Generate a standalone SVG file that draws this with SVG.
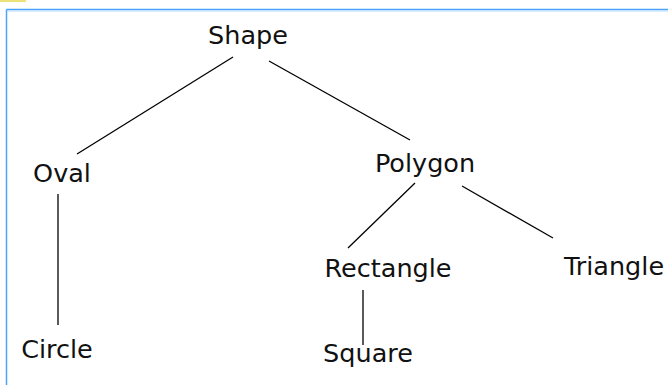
<svg xmlns="http://www.w3.org/2000/svg" width="668" height="385" viewBox="0 0 668 385">
  <style>
    .lbl { font-family: "DejaVu Sans", sans-serif; font-size: 25.5px; fill: #111; text-anchor: middle; }
    .edge { stroke: #000; stroke-width: 1.3; fill: none; }
  </style>
  <rect width="668" height="385" fill="#fff"/>
  <!-- frame -->
  <rect x="0" y="0" width="26" height="2" fill="#f0e27a"/>
  <line x1="6.5" y1="9.5" x2="668" y2="9.5" stroke="#4aa3ff" stroke-width="1.5"/>
  <line x1="7.5" y1="11" x2="668" y2="11" stroke="#b5dcff" stroke-width="1"/>
  <line x1="6.5" y1="9.5" x2="6.5" y2="385" stroke="#4aa3ff" stroke-width="1.5"/>

  <g id="connectors">
    <line class="edge" x1="233" y1="57" x2="77" y2="154"/>
    <line class="edge" x1="269" y1="61" x2="410" y2="140"/>
    <line class="edge" x1="58" y1="194" x2="58" y2="325"/>
    <line class="edge" x1="415" y1="183" x2="348" y2="248"/>
    <line class="edge" x1="462" y1="186" x2="553" y2="238"/>
    <line class="edge" x1="363" y1="290" x2="363" y2="345"/>
  </g>

  <g id="shape"><text class="lbl" x="248" y="44">Shape</text></g>
  <g id="oval"><text class="lbl" x="62" y="182">Oval</text></g>
  <g id="polygon"><text class="lbl" x="425" y="172">Polygon</text></g>
  <g id="circle"><text class="lbl" x="57" y="358">Circle</text></g>
  <g id="rectangle"><text class="lbl" x="388" y="277">Rectangle</text></g>
  <g id="triangle"><text class="lbl" x="614" y="275">Triangle</text></g>
  <g id="square"><text class="lbl" x="368" y="362">Square</text></g>
</svg>
